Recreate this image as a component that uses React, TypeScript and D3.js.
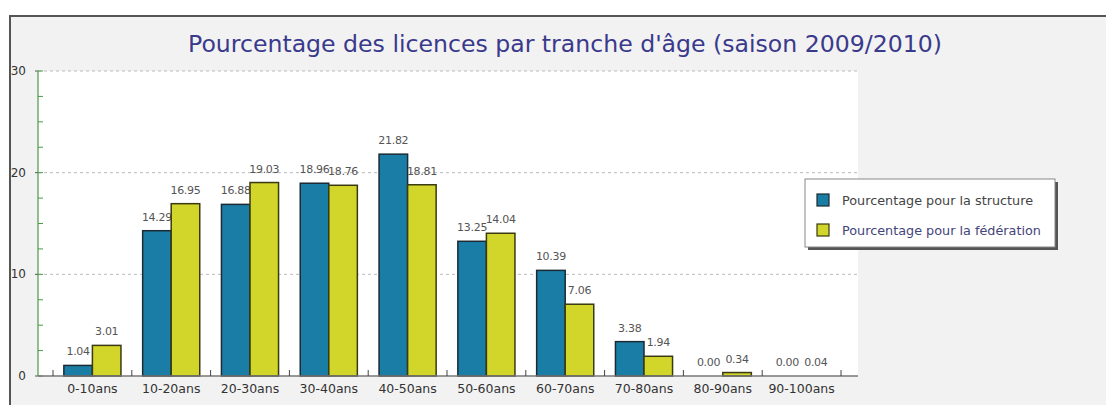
import React from "react";
import * as d3 from "d3";

const categories = ["0-10ans", "10-20ans", "20-30ans", "30-40ans", "40-50ans", "50-60ans", "60-70ans", "70-80ans", "80-90ans", "90-100ans"];
const structureValues = [1.04, 14.29, 16.88, 18.96, 21.82, 13.25, 10.39, 3.38, 0.0, 0.0];
const federationValues = [3.01, 16.95, 19.03, 18.76, 18.81, 14.04, 7.06, 1.94, 0.34, 0.04];
const seriesNames = ["Pourcentage pour la structure", "Pourcentage pour la fédération"];
const yTicks = [0, 10, 20, 30];
const title = "Pourcentage des licences par tranche d'âge (saison 2009/2010)";

const W = 1106;
const H = 405;
const plot = { left: 38, right: 858, top: 71, bottom: 376 };
const colors = ["#1a7da6", "#d2d52a"];
const strokes = ["#1c2a33", "#3a3a12"];

export default function App() {
  const x = d3.scaleBand<string>().domain(categories).range([53, 841]).paddingInner(0).paddingOuter(0);
  const inner = d3.scaleBand<number>().domain([0, 1]).range([0, x.bandwidth()]).paddingInner(0).paddingOuter(0.38);
  const y = d3.scaleLinear().domain([0, 30]).range([plot.bottom, plot.top]);
  const minorTicks = d3.range(0, 30.01, 2.5);
  const series = [structureValues, federationValues];
  const font = "DejaVu Sans, Verdana, sans-serif";

  return (
    <svg width={W} height={H} style={{ position: "absolute", left: 0, top: 0 }} fontFamily={font}>
      <rect x={0} y={0} width={W} height={H} fill="#ffffff" />
      <rect x={10} y={16} width={W} height={H} fill="#f2f2f2" stroke="#555" strokeWidth={2} />
      <rect x={plot.left} y={plot.top} width={plot.right - plot.left} height={plot.bottom - plot.top} fill="#ffffff" />
      <text x={565} y={52} textAnchor="middle" fontSize={23.6} fill="#3a3a8c">{title}</text>

      {yTicks.filter((t) => t > 0).map((t) => (
        <line key={"g" + t} x1={plot.left} x2={plot.right} y1={y(t)} y2={y(t)} stroke="#bbbbbb" strokeDasharray="3,3" />
      ))}

      {minorTicks.map((t) => (
        <line key={"m" + t} x1={plot.left} x2={plot.left + 5} y1={y(t)} y2={y(t)} stroke="#4a9a4a" />
      ))}
      {yTicks.map((t) => (
        <g key={"yt" + t}>
          <line x1={plot.left - 3} x2={plot.left} y1={y(t)} y2={y(t)} stroke="#555" />
          <text x={26} y={y(t) + 4} textAnchor="end" fontSize={12} fill="#333">{t}</text>
        </g>
      ))}
      <line x1={plot.left} x2={plot.left} y1={plot.top} y2={plot.bottom} stroke="#4a9a4a" strokeWidth={1.2} />

      {categories.map((c, i) => (
        <g key={c}>
          {series.map((vals, s) => {
            const bx = (x(c) as number) + (inner(s) as number);
            const bw = inner.bandwidth();
            const by = y(vals[i]);
            const h = plot.bottom - by;
            return (
              <g key={s}>
                {h > 0.5 && (
                  <rect x={bx} y={by} width={bw} height={h} fill={colors[s]} stroke={strokes[s]} strokeWidth={1.5} />
                )}
                <text x={bx + bw / 2} y={by - 10} textAnchor="middle" fontSize={11} letterSpacing={-0.3} fill="#555">{vals[i].toFixed(2)}</text>
              </g>
            );
          })}
          <text x={(x(c) as number) + x.bandwidth() / 2} y={393} textAnchor="middle" fontSize={12.5} fill="#333">{c}</text>
        </g>
      ))}

      <line x1={plot.left} x2={plot.right} y1={plot.bottom} y2={plot.bottom} stroke="#777" strokeWidth={1.5} />
      {[...categories.map((c) => x(c) as number), 841].map((tx, i) => (
        <line key={"xt" + i} x1={tx} x2={tx} y1={plot.bottom} y2={plot.bottom - 6} stroke="#444" />
      ))}

      <g>
        <rect x={808} y={182} width={250} height={68} fill="#555" />
        <rect x={805} y={179} width={250} height={68} fill="#ffffff" stroke="#888" />
        {seriesNames.map((n, s) => (
          <g key={n}>
            <rect x={817} y={194 + s * 30} width={12} height={12} fill={colors[s]} stroke={strokes[s]} strokeWidth={1.2} />
            <text x={842} y={205 + s * 30} fontSize={12.8} fill={s === 0 ? "#444" : "#44447a"}>{n}</text>
          </g>
        ))}
      </g>
    </svg>
  );
}
